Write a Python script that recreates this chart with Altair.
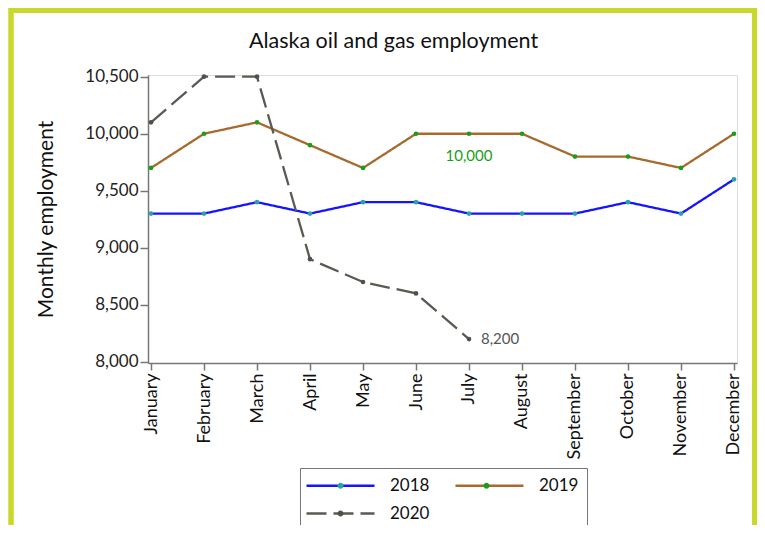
import altair as alt
import pandas as pd

months = ["January", "February", "March", "April", "May", "June", "July",
          "August", "September", "October", "November", "December"]
emp_2018 = [9300, 9300, 9400, 9300, 9400, 9400, 9300, 9300, 9300, 9400, 9300, 9600]
emp_2019 = [9700, 10000, 10100, 9900, 9700, 10000, 10000, 10000, 9800, 9800, 9700, 10000]
emp_2020 = [10100, 10500, 10500, 8900, 8700, 8600, 8200]
years = ["2018", "2019", "2020"]
y_ticks = [8000, 8500, 9000, 9500, 10000, 10500]

ann_month = ["July", "July"]
ann_value = [10000, 8200]
ann_text = ["10,000", "8,200"]

line_colors = ["#1414ff", "#a8692c", "#575c52"]
dot_colors = ["#2aa3a3", "#1a9e1a", "#4f524c"]
dashes = [[1, 0], [1, 0], [20, 7]]

rows = []
for yr, vals in zip(years, [emp_2018, emp_2019, emp_2020]):
    for m, v in zip(months, vals):
        rows.append({"month": m, "year": yr, "yr": yr, "value": v})
df = pd.DataFrame(rows)
ann = pd.DataFrame({"month": ann_month, "value": ann_value, "text": ann_text})

FONT = "Lato"

x_enc = alt.X("month:N", sort=months,
              scale=alt.Scale(type="point", padding=0.057),
              axis=alt.Axis(title=None, labelAngle=-90, labelFontSize=18,
                            labelFont=FONT, labelColor="#111", labelPadding=3,
                            tickSize=7, tickColor="#777", domainColor="#777",
                            domainWidth=1.5, tickWidth=1.5, grid=False,
                            labelAlign="right", labelBaseline="middle"))
y_enc = alt.Y("value:Q",
              scale=alt.Scale(domain=[7990, 10515], nice=False, zero=False),
              axis=alt.Axis(title="Monthly employment", values=y_ticks, format=",.0f",
                            labelFontSize=17, labelFont=FONT, labelColor="#222",
                            titleFontSize=21, titleFont=FONT, titleFontWeight="normal",
                            titleColor="#111", titlePadding=28,
                            tickSize=8, tickColor="#777", domainColor="#777",
                            domainWidth=1.5, tickWidth=1.5, grid=False))

legend_common = dict(title=None, orient="none", legendX=152, legendY=393,
                     direction="horizontal", columns=2, symbolSize=256,
                     symbolStrokeWidth=2.5,
                     labelFontSize=17, labelFont=FONT, labelOffset=63,
                     rowPadding=10, padding=8)

line_path = "M-1.375,0H7.125"
line_legend = alt.Legend(symbolType=line_path, strokeColor="#777",
                         fillColor="white", labelColor="#111",
                         columnPadding=20, **legend_common)

lines = alt.Chart(df).mark_line(strokeWidth=2.3).encode(
    x=x_enc, y=y_enc,
    color=alt.Color("year:N", scale=alt.Scale(domain=years, range=line_colors),
                    legend=line_legend),
    strokeDash=alt.StrokeDash("year:N", scale=alt.Scale(domain=years, range=dashes),
                              legend=line_legend),
)

dot_path = "M2.5,0A0.375,0.375,0,1,0,3.25,0A0.375,0.375,0,1,0,2.5,0Z"
points = alt.Chart(df).mark_circle(size=22, opacity=1).encode(
    x=x_enc, y=y_enc,
    fill=alt.Fill("yr:N", scale=alt.Scale(range=dot_colors),
                  legend=alt.Legend(symbolType=dot_path, labelExpr="''",
                                    symbolStrokeColor="transparent",
                                    columnPadding=64,
                                    symbolOpacity=1, **legend_common)),
)

lab19 = alt.Chart(ann).transform_filter(alt.datum.text == "10,000").mark_text(
    font=FONT, fontSize=15, color="#1a9e1a", dy=22, align="center"
).encode(x=x_enc, y=y_enc, text="text:N")

lab20 = alt.Chart(ann).transform_filter(alt.datum.text == "8,200").mark_text(
    font=FONT, fontSize=15, color="#555", dx=12, align="left", baseline="middle"
).encode(x=x_enc, y=y_enc, text="text:N")

frame = alt.Chart(ann).mark_rect(fill=None, stroke="#c9d92b", strokeWidth=5).encode(
    x=alt.value(-137), x2=alt.value(606.5), y=alt.value(-64.5), y2=alt.value(480)
)

chart = alt.layer(frame, lines, points, lab19, lab20).properties(
    width=589, height=288,
    padding={"left": 140, "top": 67, "right": 20, "bottom": 162},
    autosize=alt.AutoSizeParams(type="none"),
    title=alt.Title("Alaska oil and gas employment", fontSize=21.5, font=FONT,
                    fontWeight="normal", color="#111", anchor="middle",
                    dx=-49, offset=-44),
).configure_view(stroke=None).configure(background="white")

chart.save("out.html", embed_options={"renderer": "svg", "actions": False})
